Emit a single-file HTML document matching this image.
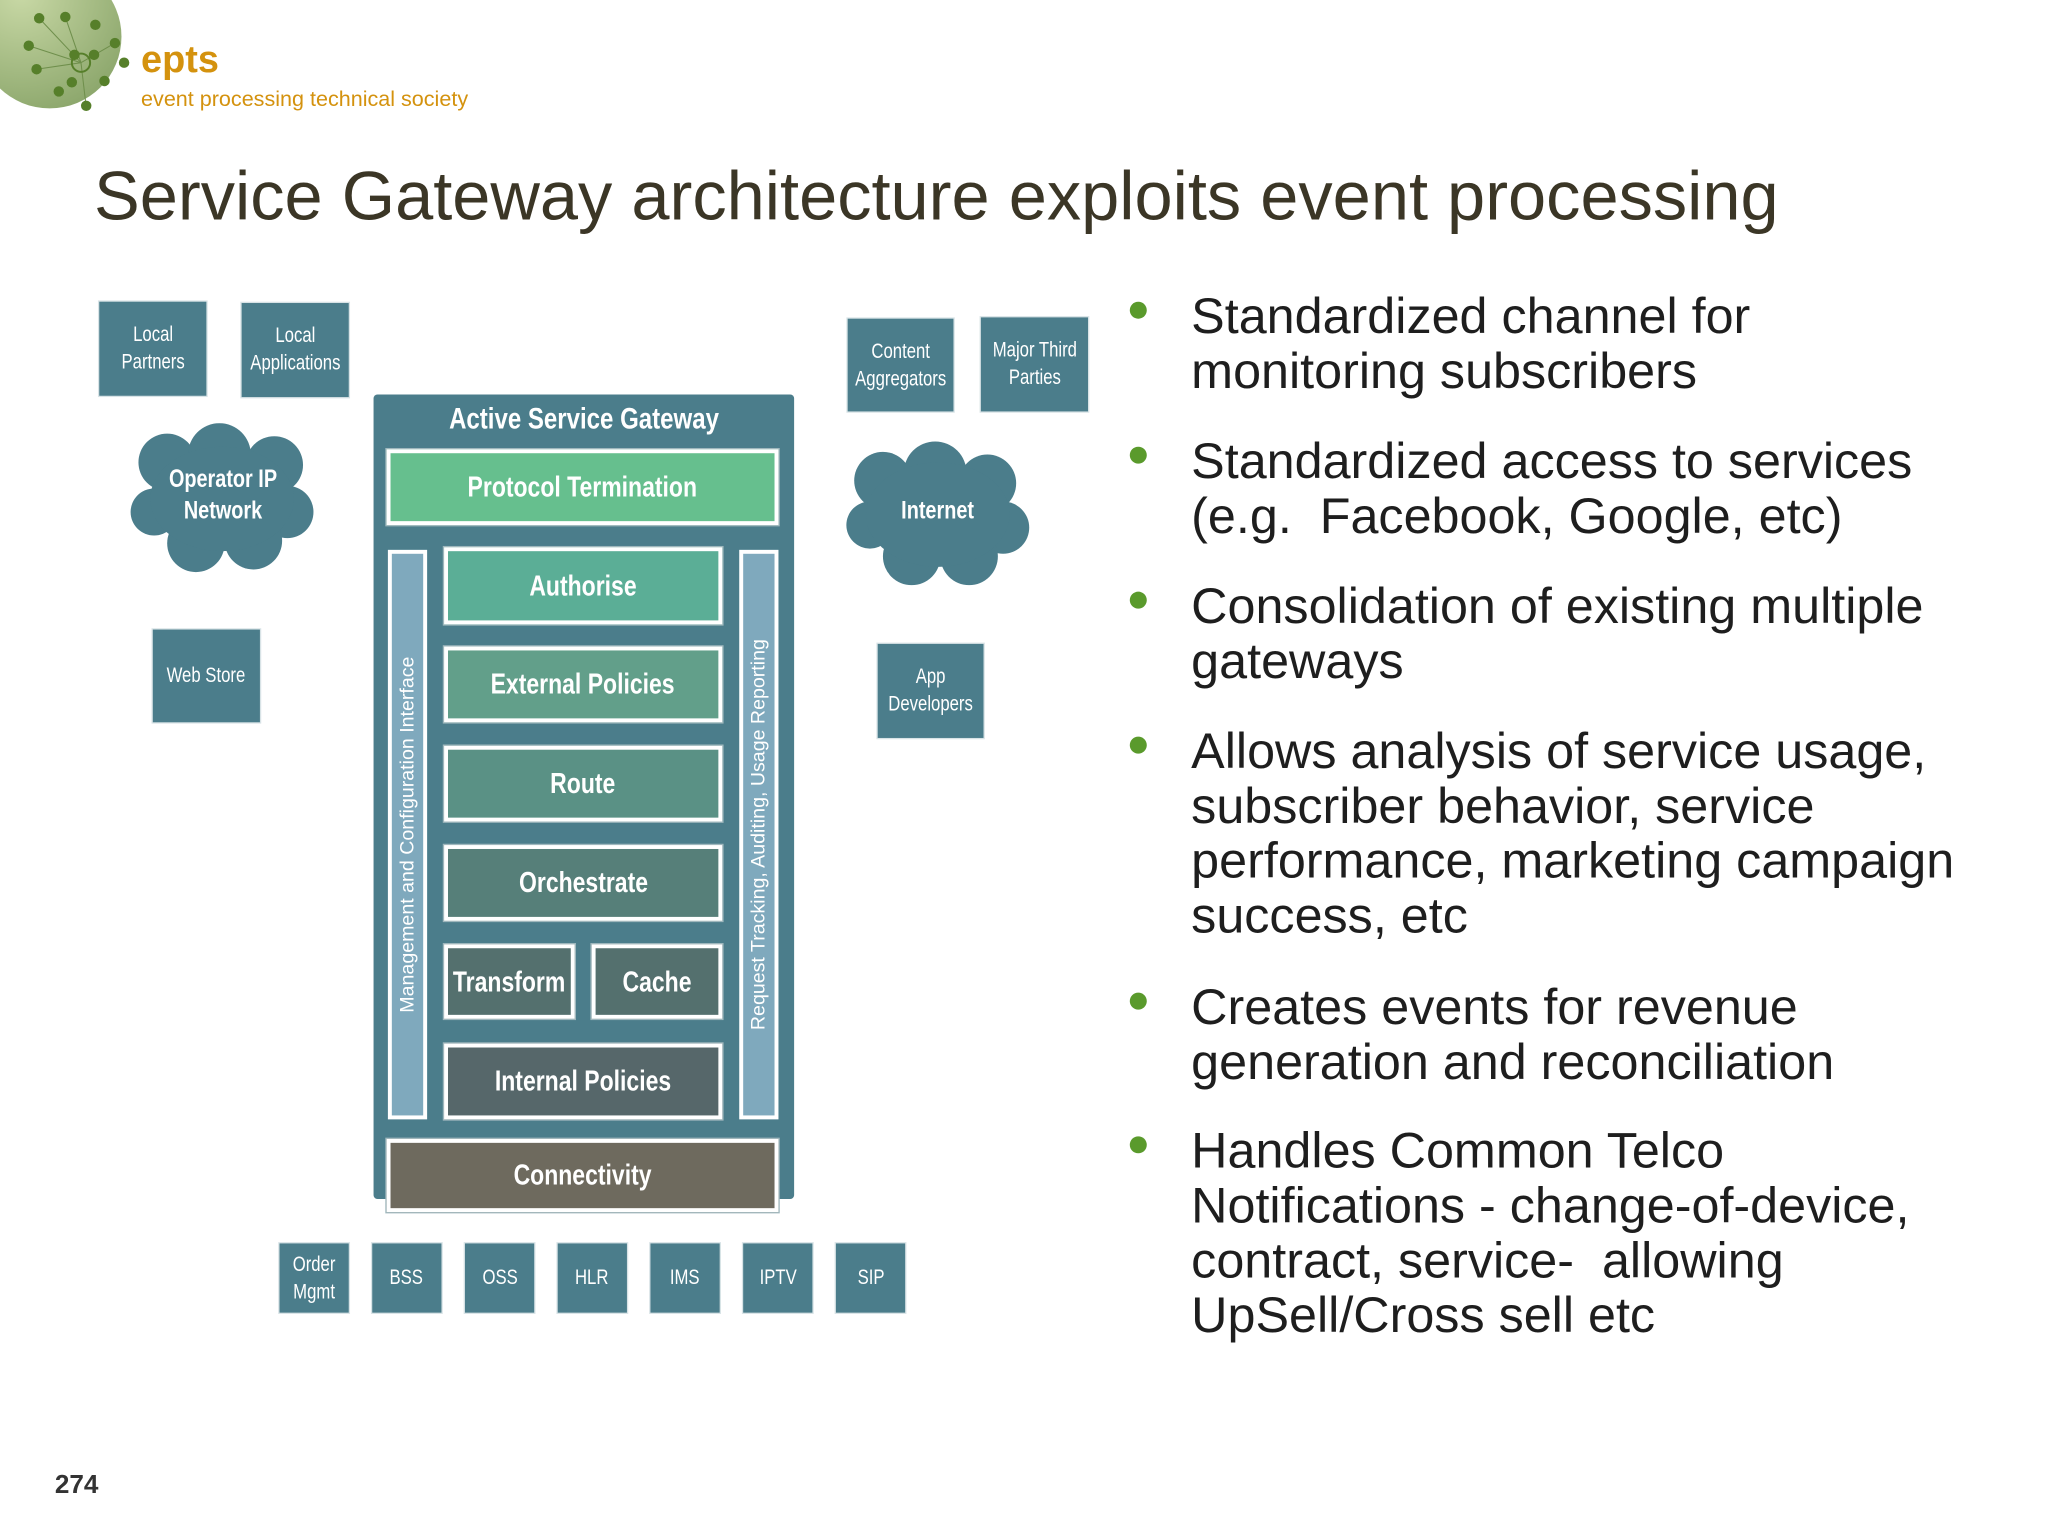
<!DOCTYPE html>
<html><head><meta charset="utf-8"><style>
html,body{margin:0;padding:0;background:#fff;}
body{width:2048px;height:1536px;overflow:hidden;position:relative;}
#s{position:absolute;left:0;top:0;width:1568px;height:1176px;transform:scale(1.30612);transform-origin:0 0;font-family:"Liberation Sans",sans-serif;}
.a{position:absolute;}
.b{position:absolute;background:#4b7d8b;color:#fff;display:flex;align-items:center;justify-content:center;text-align:center;font-size:16px;line-height:21px;box-shadow:0 0 0 1px #d8e3e6;}
.b span,.g span,.c{display:inline-block;transform:scaleX(0.8);white-space:nowrap;}
.g{position:absolute;border:3px solid #fff;box-sizing:border-box;color:#fff;display:flex;align-items:center;justify-content:center;font-weight:bold;font-size:22px;box-shadow:0 0 0 1px #9fb7bd;}
.v{position:absolute;background:#7fa9bd;border:3px solid #fff;box-sizing:border-box;}
.v span{position:absolute;left:50%;top:50%;white-space:nowrap;color:#fff;font-size:15px;transform:translate(-50%,-50%) rotate(-90deg);}
.t{position:absolute;left:912px;font-size:38.5px;line-height:42px;color:#1e1e1e;white-space:nowrap;}
.d{position:absolute;left:865px;width:13px;height:13px;border-radius:50%;background:#5a9a2c;}
</style></head><body><div id="s">
<svg class="a" style="left:0;top:0" width="100" height="90">
<defs><radialGradient id="rg" cx="0.3" cy="0.2" r="0.9"><stop offset="0" stop-color="#c9d9a6"/><stop offset="1" stop-color="#8aa56a"/></radialGradient></defs>
<circle cx="38" cy="28" r="55" fill="url(#rg)"/>
<g stroke="#6f8f4c" stroke-width="0.8"><line x1="62" y1="48" x2="30" y2="14"/><line x1="62" y1="48" x2="50" y2="13"/><line x1="62" y1="48" x2="22" y2="35"/><line x1="62" y1="48" x2="88" y2="33"/><line x1="62" y1="48" x2="28" y2="53"/><line x1="62" y1="48" x2="66" y2="82"/></g>
<g fill="#567f2a"><circle cx="30" cy="14" r="4"/><circle cx="50" cy="13" r="4"/><circle cx="73" cy="19" r="4"/><circle cx="22" cy="35" r="4"/><circle cx="57" cy="42" r="4"/><circle cx="72" cy="42" r="4"/><circle cx="88" cy="33" r="4"/><circle cx="95" cy="48" r="4"/><circle cx="28" cy="53" r="4"/><circle cx="55" cy="63" r="4"/><circle cx="45" cy="70" r="4"/><circle cx="66" cy="81" r="4"/><circle cx="80" cy="62" r="4"/></g>
<circle cx="62" cy="48" r="7" fill="none" stroke="#567f2a" stroke-width="1.5"/>
</svg>
<div class="a" style="left:108px;top:30px;font-size:29px;font-weight:bold;color:#d4920e">epts</div>
<div class="a" style="left:108px;top:67px;font-size:16.5px;color:#d4920e">event processing technical society</div>
<div class="a" style="left:72px;top:120px;font-size:52.5px;color:#3b3626;white-space:nowrap">Service Gateway architecture exploits event processing</div>

<div class="b" style="left:76px;top:231px;width:82px;height:72px"><span>Local<br>Partners</span></div>
<div class="b" style="left:185px;top:232px;width:82px;height:72px"><span>Local<br>Applications</span></div>
<div class="b" style="left:117px;top:482px;width:82px;height:71px"><span>Web Store</span></div>
<div class="b" style="left:649px;top:244px;width:81px;height:71px"><span>Content<br>Aggregators</span></div>
<div class="b" style="left:751px;top:243px;width:82px;height:72px"><span>Major Third<br>Parties</span></div>
<div class="b" style="left:672px;top:493px;width:81px;height:72px"><span>App<br>Developers</span></div>
<svg class="a" style="left:98px;top:324px" width="145" height="116"><g fill="#4b7d8b"><circle cx="30" cy="30" r="22"/><circle cx="70" cy="24" r="24"/><circle cx="112" cy="32" r="22"/><circle cx="122" cy="68" r="20"/><circle cx="96" cy="90" r="22"/><circle cx="52" cy="92" r="22"/><circle cx="20" cy="68" r="18"/><ellipse cx="72" cy="58" rx="55" ry="40"/></g></svg>
<div class="a" style="left:98px;top:356px;width:145px;text-align:center;color:#fff;font-weight:bold;font-size:19px;line-height:24px"><span class="c">Operator IP<br>Network</span></div>
<svg class="a" style="left:646px;top:336px" width="143" height="114"><g fill="#4b7d8b"><circle cx="30" cy="32" r="22"/><circle cx="70" cy="26" r="24"/><circle cx="110" cy="34" r="22"/><circle cx="122" cy="68" r="20"/><circle cx="96" cy="90" r="22"/><circle cx="52" cy="90" r="22"/><circle cx="20" cy="66" r="18"/><ellipse cx="72" cy="58" rx="55" ry="40"/></g></svg>
<div class="a" style="left:646px;top:381px;width:143px;text-align:center;color:#fff;font-weight:bold;font-size:19px"><span class="c">Internet</span></div>

<div class="a" style="left:286px;top:302px;width:322px;height:616px;background:#4b7d8b;border-radius:3px"></div>
<div class="a" style="left:286px;top:307px;width:322px;text-align:center;color:#fff;font-weight:bold;font-size:23px"><span class="c">Active Service Gateway</span></div>
<div class="g" style="left:296px;top:344px;width:300px;height:58px;background:#66bf8e"><span>Protocol Termination</span></div>
<div class="v" style="left:297px;top:421px;width:30px;height:436px"><span>Management and Configuration Interface</span></div>
<div class="v" style="left:566px;top:421px;width:30px;height:436px"><span>Request Tracking, Auditing, Usage Reporting</span></div>
<div class="g" style="left:340px;top:419px;width:213px;height:59px;background:#5bae96"><span>Authorise</span></div>
<div class="g" style="left:340px;top:495px;width:213px;height:58px;background:#629f8a"><span>External Policies</span></div>
<div class="g" style="left:340px;top:571px;width:213px;height:58px;background:#5a9185"><span>Route</span></div>
<div class="g" style="left:340px;top:647px;width:213px;height:58px;background:#567f79"><span>Orchestrate</span></div>
<div class="g" style="left:340px;top:723px;width:100px;height:57px;background:#54706e"><span>Transform</span></div>
<div class="g" style="left:453px;top:723px;width:100px;height:57px;background:#54706e"><span>Cache</span></div>
<div class="g" style="left:340px;top:799px;width:213px;height:58px;background:#56676a"><span>Internal Policies</span></div>
<div class="g" style="left:296px;top:872px;width:300px;height:56px;background:#6e6a5e"><span>Connectivity</span></div>

<div class="b" style="left:214px;top:952px;width:53px;height:53px"><span>Order<br>Mgmt</span></div>
<div class="b" style="left:285px;top:952px;width:53px;height:53px"><span>BSS</span></div>
<div class="b" style="left:356px;top:952px;width:53px;height:53px"><span>OSS</span></div>
<div class="b" style="left:427px;top:952px;width:53px;height:53px"><span>HLR</span></div>
<div class="b" style="left:498px;top:952px;width:53px;height:53px"><span>IMS</span></div>
<div class="b" style="left:569px;top:952px;width:53px;height:53px"><span>IPTV</span></div>
<div class="b" style="left:640px;top:952px;width:53px;height:53px"><span>SIP</span></div>

<div class="d" style="top:231px"></div><div class="t" style="top:222px">Standardized channel for<br>monitoring subscribers</div>
<div class="d" style="top:342px"></div><div class="t" style="top:333px">Standardized access to services<br>(e.g.&nbsp; Facebook, Google, etc)</div>
<div class="d" style="top:453px"></div><div class="t" style="top:444px">Consolidation of existing multiple<br>gateways</div>
<div class="d" style="top:564px"></div><div class="t" style="top:555px">Allows analysis of service usage,<br>subscriber behavior, service<br>performance, marketing campaign<br>success, etc</div>
<div class="d" style="top:760px"></div><div class="t" style="top:751px">Creates events for revenue<br>generation and reconciliation</div>
<div class="d" style="top:870px"></div><div class="t" style="top:861px">Handles Common Telco<br>Notifications - change-of-device,<br>contract, service-&nbsp; allowing<br>UpSell/Cross sell etc</div>
<div class="a" style="left:42px;top:1126px;font-size:20px;font-weight:bold;color:#333">274</div>
</div></body></html>
